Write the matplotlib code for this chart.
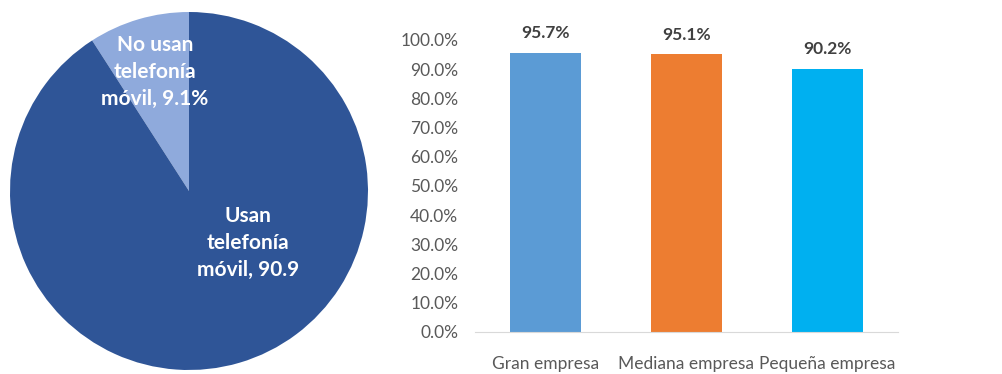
import matplotlib
matplotlib.use("Agg")
from matplotlib import pyplot as plt

plt.rcParams['font.family'] = ['Lato', 'DejaVu Sans']

# pie: uso de telefonía móvil
pie_vals = [9.1, 90.9]
pie_colors = ['#8FAADC', '#2F5597']

# barras: por tamaño de empresa
categorias = ['Gran empresa', 'Mediana empresa', 'Pequeña empresa']
porcentajes = [95.7, 95.1, 90.2]
bar_colors = ['#5B9BD5', '#ED7D31', '#00B0F0']

fig = plt.figure(figsize=(10.03, 3.74), dpi=100)

ax1 = fig.add_axes([10 / 1003, 4 / 374, 358 / 1003, 358 / 374])
ax1.pie(pie_vals, colors=pie_colors, startangle=90, counterclock=True,
        wedgeprops=dict(linewidth=0))
ax1.set_xlim(-1, 1)
ax1.set_ylim(-1, 1)
ax1.set_aspect('equal')
ax1.text(-0.19, 0.665, 'No usan\ntelefonía\nmóvil, %.1f%%' % pie_vals[0],
         ha='center', va='center', color='white', fontsize=15,
         fontweight='bold', linespacing=1.45)
ax1.text(0.33, -0.29, 'Usan\ntelefonía\nmóvil, %.1f' % pie_vals[1],
         ha='center', va='center', color='white', fontsize=15,
         fontweight='bold', linespacing=1.45)

ax2 = fig.add_axes([475 / 1003, 42 / 374, 423 / 1003, 292 / 374])
x = range(len(categorias))
bars = ax2.bar(x, [p / 100 for p in porcentajes], width=0.5, color=bar_colors)
for b, p in zip(bars, porcentajes):
    ax2.text(b.get_x() + b.get_width() / 2, b.get_height() + 0.04,
             '%.1f%%' % p, ha='center', va='bottom', fontsize=12.5,
             fontweight='bold', color='#404040')
ax2.set_xlim(-0.5, 2.5)
ax2.set_ylim(0, 1)
ax2.set_yticks([i / 10 for i in range(11)])
ax2.set_yticklabels(['%.1f%%' % (i * 10) for i in range(11)])
ax2.set_xticks(list(x))
ax2.set_xticklabels(categorias)
ax2.tick_params(axis='both', length=0, labelsize=12.5, colors='#595959')
ax2.tick_params(axis='x', pad=17)
ax2.tick_params(axis='y', pad=12)
for s in ['top', 'right', 'left']:
    ax2.spines[s].set_visible(False)
ax2.spines['bottom'].set_color('#D9D9D9')

fig.savefig('out.png', dpi=100)
